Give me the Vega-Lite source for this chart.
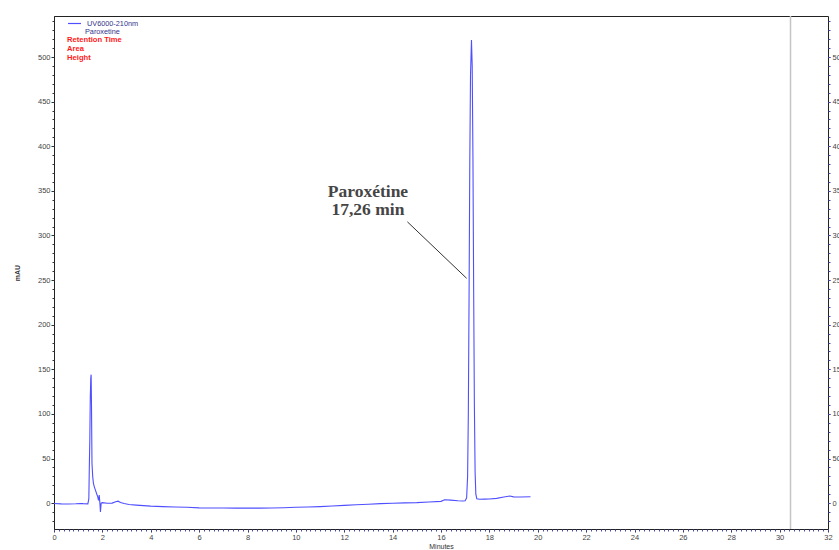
{
  "$schema": "https://vega.github.io/schema/vega-lite/v6.json",
  "width": 774,
  "height": 513,
  "autosize": {"type": "none"},
  "padding": {"left": 54, "top": 16, "right": 11, "bottom": 21},
  "background": "white",
  "config": {
    "view": {"stroke": "#222", "strokeWidth": 1},
    "axis": {
      "labelFont": "Liberation Sans",
      "labelFontSize": 7.5,
      "labelColor": "#444",
      "tickColor": "#333",
      "domainColor": "#222",
      "grid": false,
      "titleFont": "Liberation Sans",
      "titleColor": "#333"
    },
    "legend": {
      "labelFont": "Liberation Sans",
      "labelFontSize": 7.3,
      "labelColor": "#34348c"
    }
  },
  "resolve": {"axis": {"x": "independent", "y": "independent"}},
  "layer": [
    {
      "data": {
        "values": [
          {"t": 0, "mAU": -0.5}, {"t": 0.3, "mAU": -0.8}, {"t": 0.6, "mAU": -0.9}, {"t": 0.9, "mAU": -0.7},
          {"t": 1.1, "mAU": -0.4}, {"t": 1.2, "mAU": -0.6}, {"t": 1.4, "mAU": -0.8}, {"t": 1.44, "mAU": 5},
          {"t": 1.46, "mAU": 40}, {"t": 1.48, "mAU": 70}, {"t": 1.5, "mAU": 118}, {"t": 1.52, "mAU": 140},
          {"t": 1.535, "mAU": 144}, {"t": 1.55, "mAU": 110}, {"t": 1.57, "mAU": 45}, {"t": 1.6, "mAU": 30},
          {"t": 1.63, "mAU": 22}, {"t": 1.67, "mAU": 18}, {"t": 1.72, "mAU": 14}, {"t": 1.77, "mAU": 10},
          {"t": 1.81, "mAU": 7}, {"t": 1.84, "mAU": 3}, {"t": 1.87, "mAU": 9}, {"t": 1.9, "mAU": -1},
          {"t": 1.92, "mAU": -10}, {"t": 1.95, "mAU": 0}, {"t": 2.0, "mAU": 0.5}, {"t": 2.2, "mAU": -0.2},
          {"t": 2.4, "mAU": 0}, {"t": 2.55, "mAU": 1.5}, {"t": 2.65, "mAU": 2.2}, {"t": 2.75, "mAU": 0.8},
          {"t": 2.9, "mAU": -0.5}, {"t": 3.1, "mAU": -1.5}, {"t": 3.4, "mAU": -2.2}, {"t": 3.7, "mAU": -2.8},
          {"t": 4.0, "mAU": -3.4}, {"t": 4.5, "mAU": -3.9}, {"t": 5.0, "mAU": -4.3}, {"t": 5.5, "mAU": -4.7},
          {"t": 6.0, "mAU": -5.3}, {"t": 6.5, "mAU": -5.5}, {"t": 7.0, "mAU": -5.5}, {"t": 7.5, "mAU": -5.6},
          {"t": 8.0, "mAU": -5.6}, {"t": 8.5, "mAU": -5.6}, {"t": 9.0, "mAU": -5.5}, {"t": 9.5, "mAU": -5.1},
          {"t": 10.0, "mAU": -4.7}, {"t": 10.5, "mAU": -4.3}, {"t": 11.0, "mAU": -3.9}, {"t": 11.5, "mAU": -3.3},
          {"t": 12.0, "mAU": -2.5}, {"t": 12.5, "mAU": -1.8}, {"t": 13.0, "mAU": -1.2}, {"t": 13.5, "mAU": -0.6},
          {"t": 14.0, "mAU": -0.1}, {"t": 14.5, "mAU": 0.3}, {"t": 15.0, "mAU": 0.6}, {"t": 15.5, "mAU": 1.2},
          {"t": 16.0, "mAU": 2.0}, {"t": 16.15, "mAU": 3.8}, {"t": 16.4, "mAU": 3.4}, {"t": 16.7, "mAU": 2.6},
          {"t": 16.9, "mAU": 2.4}, {"t": 17.0, "mAU": 2.6}, {"t": 17.06, "mAU": 6}, {"t": 17.1, "mAU": 30},
          {"t": 17.13, "mAU": 100}, {"t": 17.16, "mAU": 230}, {"t": 17.19, "mAU": 380}, {"t": 17.22, "mAU": 480},
          {"t": 17.26, "mAU": 519}, {"t": 17.29, "mAU": 490}, {"t": 17.32, "mAU": 390}, {"t": 17.35, "mAU": 240},
          {"t": 17.38, "mAU": 110}, {"t": 17.41, "mAU": 35}, {"t": 17.44, "mAU": 10}, {"t": 17.48, "mAU": 5},
          {"t": 17.6, "mAU": 4.4}, {"t": 17.8, "mAU": 4.5}, {"t": 18.0, "mAU": 4.6}, {"t": 18.3, "mAU": 5.3},
          {"t": 18.6, "mAU": 6.8}, {"t": 18.85, "mAU": 8}, {"t": 19.0, "mAU": 7}, {"t": 19.3, "mAU": 6.8},
          {"t": 19.7, "mAU": 7.2}
        ]
      },
      "mark": {"type": "line", "strokeWidth": 1.1, "interpolate": "linear"},
      "encoding": {
        "x": {
          "field": "t", "type": "quantitative",
          "scale": {"domain": [0, 32], "nice": false, "zero": false},
          "axis": {
            "orient": "bottom", "values": [0, 2, 4, 6, 8, 10, 12, 14, 16, 18, 20, 22, 24, 26, 28, 30, 32],
            "title": "Minutes", "titleFontSize": 7, "titleFontWeight": "normal", "titlePadding": 2,
            "tickSize": 3, "labelPadding": 1, "labelFlush": false
          }
        },
        "y": {
          "field": "mAU", "type": "quantitative",
          "scale": {"domain": [-29, 546], "nice": false, "zero": false},
          "axis": {
            "orient": "left", "values": [0, 50, 100, 150, 200, 250, 300, 350, 400, 450, 500],
            "title": "mAU", "titleFontSize": 7, "titleFontWeight": "bold", "titlePadding": 17,
            "tickSize": 3, "labelPadding": 1, "labelFlush": false
          }
        },
        "color": {
          "datum": "UV6000-210nm",
          "scale": {"range": ["#4f4fff"]},
          "legend": {
            "title": null, "orient": "top-left", "offset": 0, "padding": 0,
            "symbolType": "stroke", "symbolSize": 169, "symbolStrokeWidth": 1.2,
            "symbolOffset": 13, "labelOffset": 5
          }
        }
      }
    },
    {
      "data": {
        "values": [
          {"t": 12.98, "mAU": 343.3, "label": "Paroxétine"},
          {"t": 12.98, "mAU": 322.8, "label": "17,26 min"}
        ]
      },
      "mark": {
        "type": "text", "font": "Liberation Serif", "fontWeight": "bold", "fontSize": 17.5,
        "color": "#454545", "align": "center", "baseline": "alphabetic"
      },
      "encoding": {
        "x": {
          "field": "t", "type": "quantitative",
          "scale": {"domain": [0, 32], "nice": false, "zero": false},
          "axis": {"orient": "bottom", "tickCount": 160, "labels": false, "domain": false, "title": null, "tickSize": 2, "tickColor": "#4848a8"}
        },
        "y": {
          "field": "mAU", "type": "quantitative",
          "scale": {"domain": [-29, 546], "nice": false, "zero": false},
          "axis": {"orient": "left", "tickCount": 58, "labels": false, "domain": false, "title": null, "tickSize": 2}
        },
        "text": {"field": "label"}
      }
    },
    {
      "data": {"values": [{"t": 14.61, "mAU": 315.3, "t2": 17.06, "mAU2": 252}]},
      "mark": {"type": "rule", "color": "#333", "strokeWidth": 1},
      "encoding": {
        "x": {"field": "t", "type": "quantitative", "scale": {"domain": [0, 32], "nice": false, "zero": false}, "axis": null},
        "x2": {"field": "t2"},
        "y": {
          "field": "mAU", "type": "quantitative",
          "scale": {"domain": [-29, 546], "nice": false, "zero": false},
          "axis": {
            "orient": "right", "values": [0, 50, 100, 150, 200, 250, 300, 350, 400, 450, 500],
            "title": null, "tickSize": 2, "labelPadding": 2, "domain": false, "tickColor": "#4848a8", "labelFlush": false
          }
        },
        "y2": {"field": "mAU2"}
      }
    },
    {
      "data": {"values": [{"t": 1.28, "mAU": 528.6, "label": "Paroxetine"}]},
      "mark": {"type": "text", "font": "Liberation Sans", "fontSize": 7.3, "color": "#34348c", "align": "left", "baseline": "middle"},
      "encoding": {
        "x": {"field": "t", "type": "quantitative", "scale": {"domain": [0, 32], "nice": false, "zero": false}, "axis": null},
        "y": {
          "field": "mAU", "type": "quantitative",
          "scale": {"domain": [-29, 546], "nice": false, "zero": false},
          "axis": {"orient": "right", "tickCount": 58, "labels": false, "domain": false, "title": null, "tickSize": 2, "tickColor": "#4848a8"}
        },
        "text": {"field": "label"}
      }
    },
    {
      "data": {
        "values": [
          {"t": 0.54, "mAU": 519.1, "label": "Retention Time"},
          {"t": 0.54, "mAU": 509.1, "label": "Area"},
          {"t": 0.54, "mAU": 499.0, "label": "Height"}
        ]
      },
      "mark": {"type": "text", "font": "Liberation Sans", "fontSize": 7.6, "fontWeight": "bold", "color": "#ff1a1a", "align": "left", "baseline": "middle"},
      "encoding": {
        "x": {"field": "t", "type": "quantitative", "scale": {"domain": [0, 32], "nice": false, "zero": false}, "axis": null},
        "y": {"field": "mAU", "type": "quantitative", "scale": {"domain": [-29, 546], "nice": false, "zero": false}, "axis": null},
        "text": {"field": "label"}
      }
    },
    {
      "data": {"values": [{"t": 30.45}]},
      "mark": {"type": "rule", "color": "#c4c4c4", "strokeWidth": 1.5},
      "encoding": {
        "x": {"field": "t", "type": "quantitative", "scale": {"domain": [0, 32], "nice": false, "zero": false}, "axis": null}
      }
    }
  ]
}
